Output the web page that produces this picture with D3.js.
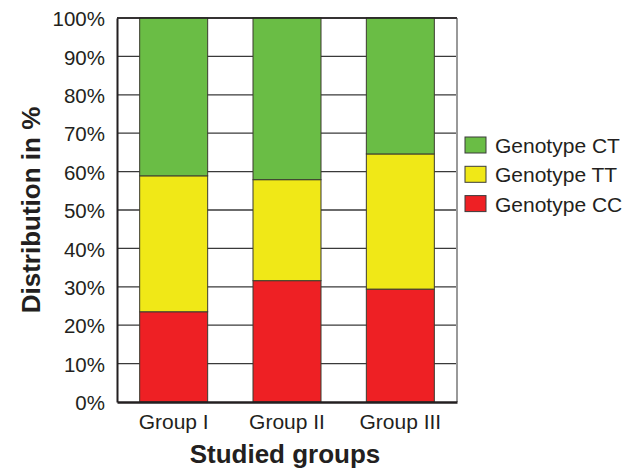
<!DOCTYPE html>
<html>
<head>
<meta charset="utf-8">
<script src="https://cdn.jsdelivr.net/npm/d3@7/dist/d3.min.js"></script>
<style>
  body { margin: 0; background: #fff; }
  text { font-family: "Liberation Sans", Arial, sans-serif; fill: #231f20; }
</style>
</head>
<body>
<svg id="chart" width="638" height="468"></svg>
<script>
// Genotype distribution per studied group (percent)
const groups = ["Group I", "Group II", "Group III"];
const genotypeCC = [23.5, 31.6, 29.4];
const genotypeTT = [35.4, 26.3, 35.2];
const genotypeCT = [41.1, 42.1, 35.4];
const yTicks = [0, 10, 20, 30, 40, 50, 60, 70, 80, 90, 100];
const seriesNames = ["Genotype CC", "Genotype TT", "Genotype CT"];
const seriesColors = ["#ee2024", "#f0e817", "#6abd45"];

const rows = groups.map((g, i) => ({
  group: g,
  "Genotype CC": genotypeCC[i],
  "Genotype TT": genotypeTT[i],
  "Genotype CT": genotypeCT[i]
}));

const svg = d3.select("#chart");
const margin = { left: 117, right: 181, top: 18, bottom: 66 };
const W = 638, H = 468;
const x = d3.scaleBand().domain(groups)
  .range([margin.left, W - margin.right])
  .paddingInner(0.4).paddingOuter(0.2);
const y = d3.scaleLinear().domain([0, 100]).range([H - margin.bottom, margin.top]);
const color = d3.scaleOrdinal().domain(seriesNames).range(seriesColors);

// horizontal gridlines
svg.append("g").selectAll("line").data(yTicks.slice(1)).join("line")
  .attr("x1", margin.left).attr("x2", W - margin.right)
  .attr("y1", d => y(d)).attr("y2", d => y(d))
  .attr("stroke", "#3a3a3a").attr("stroke-width", 1.3);

// right frame edge
svg.append("line")
  .attr("x1", W - margin.right).attr("x2", W - margin.right)
  .attr("y1", y(100)).attr("y2", y(0))
  .attr("stroke", "#999").attr("stroke-width", 2);

// stacked bars
const stack = d3.stack().keys(seriesNames)(rows);
svg.append("g").selectAll("g").data(stack).join("g")
  .attr("fill", d => color(d.key))
  .selectAll("rect").data(d => d).join("rect")
  .attr("x", d => x(d.data.group))
  .attr("width", x.bandwidth())
  .attr("y", d => y(d[1]))
  .attr("height", d => y(d[0]) - y(d[1]))
  .attr("stroke", "#3b3b2f").attr("stroke-width", 1);

// left axis with labels
const yAxis = d3.axisLeft(y).tickValues(yTicks).tickSize(0).tickPadding(12)
  .tickFormat(d => d + "%");
const gy = svg.append("g").attr("transform", `translate(${margin.left},0)`).call(yAxis);
gy.select(".domain").attr("stroke", "#231f20").attr("stroke-width", 2);
gy.selectAll("text").style("font-size", "20.5px").attr("dy", "0.38em").attr("fill", "#231f20");

// bottom axis
const xAxis = d3.axisBottom(x).tickSize(0).tickPadding(12);
const gx = svg.append("g").attr("transform", `translate(0,${y(0)})`).call(xAxis);
gx.select(".domain").attr("stroke", "#231f20").attr("stroke-width", 2.5);
gx.selectAll("text").style("font-size", "21px").attr("fill", "#231f20");

// top frame edge
svg.append("line")
  .attr("x1", margin.left).attr("x2", W - margin.right)
  .attr("y1", y(100)).attr("y2", y(100))
  .attr("stroke", "#231f20").attr("stroke-width", 1.5);

// axis titles
svg.append("text")
  .attr("transform", `translate(39.5,${(y(0) + y(100)) / 2}) rotate(-90)`)
  .attr("text-anchor", "middle")
  .style("font-size", "26px").style("font-weight", "bold")
  .text("Distribution in %");
svg.append("text")
  .attr("x", 285).attr("y", 463)
  .attr("text-anchor", "middle")
  .style("font-size", "26px").style("font-weight", "bold")
  .text("Studied groups");

// legend
const legendOrder = ["Genotype CT", "Genotype TT", "Genotype CC"];
const lg = svg.append("g").selectAll("g").data(legendOrder).join("g")
  .attr("transform", (d, i) => `translate(465,${137 + i * 29.3})`);
lg.append("rect").attr("width", 21).attr("height", 16)
  .attr("fill", d => color(d)).attr("stroke", "#3b3b3b").attr("stroke-width", 1);
lg.append("text").attr("x", 30).attr("y", 16)
  .style("font-size", "21px").text(d => d);
</script>
</body>
</html>
